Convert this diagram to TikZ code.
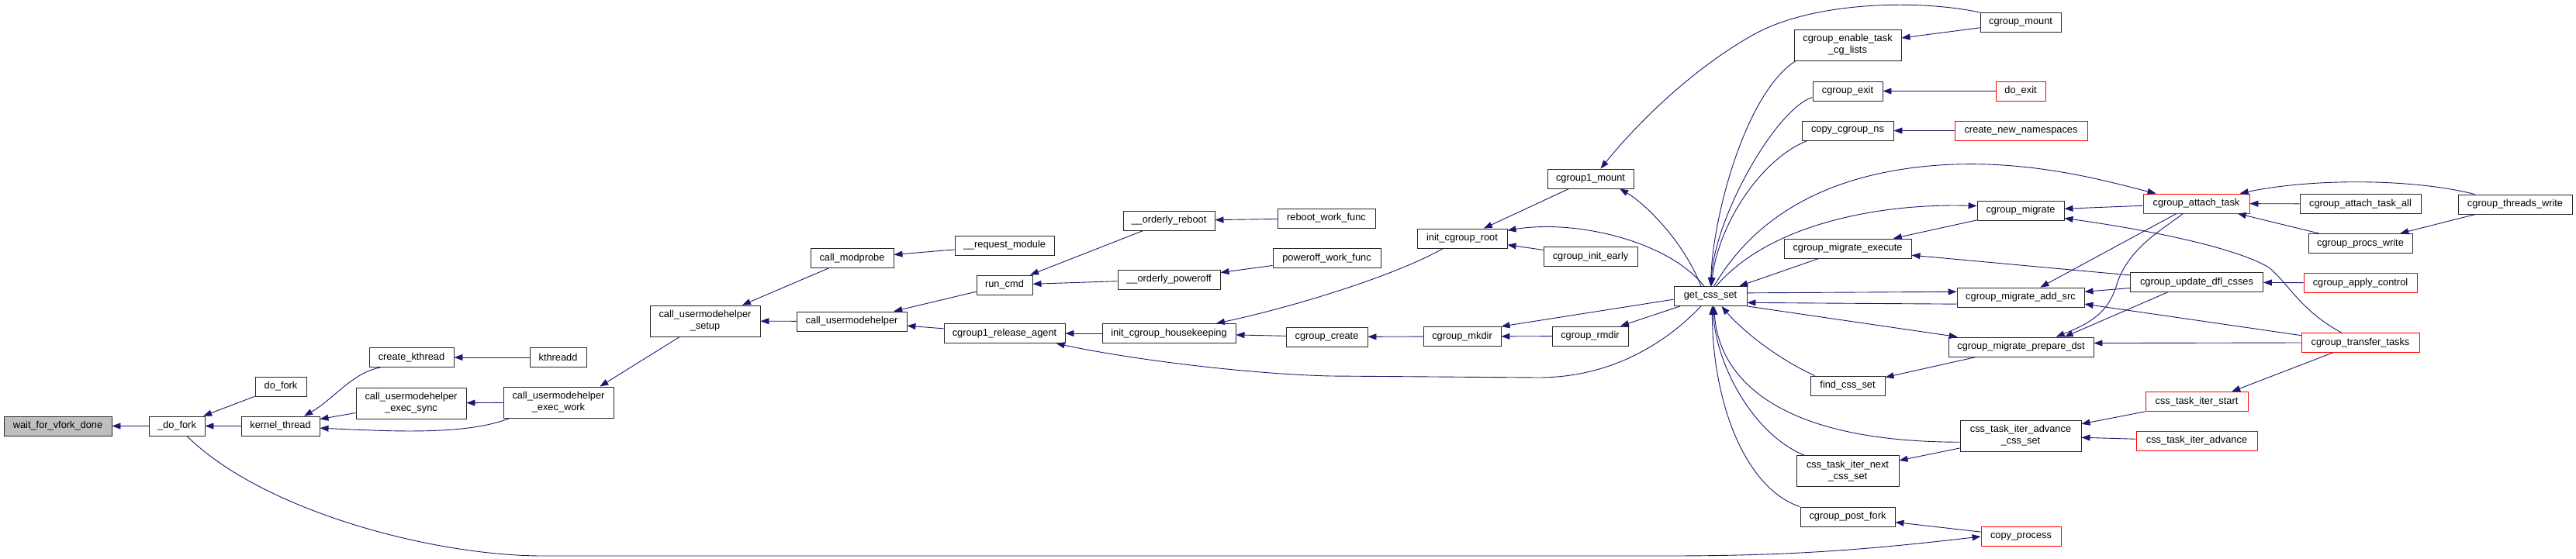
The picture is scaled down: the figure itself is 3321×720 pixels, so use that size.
\documentclass[tikz,border=0pt]{standalone}
\usepackage{fontspec}
\setmainfont{Liberation Sans}
\usetikzlibrary{arrows.meta}
\definecolor{edgeblue}{RGB}{25,25,112}
\definecolor{hlgray}{RGB}{191,191,191}
\definecolor{boxline}{RGB}{40,40,40}
\begin{document}
\begin{tikzpicture}[x=1pt, y=-1pt,
  font=\fontsize{12.8}{15}\selectfont,
  fn/.style={rectangle, draw=boxline, line width=0.9pt, fill=white, align=center,
             inner sep=0pt, minimum height=25pt},
  fn2/.style={fn, minimum height=40pt},
  hl/.style={fn, fill=hlgray}, rd/.style={fn, draw=red},
  ar/.style={{Triangle[length=11pt, width=8pt]}-, draw=edgeblue, line width=0.9pt}]
\useasboundingbox (0,0) rectangle (3321,720);
\node[hl, minimum width=139pt] (wfvd) at (74.5,549.5) {wait\_for\_vfork\_done};
\node[fn, minimum width=72pt] (dfork) at (228,549.5) {\_do\_fork};
\node[fn, minimum width=66pt] (dofork) at (362,498.5) {do\_fork};
\node[fn, minimum width=101pt] (kthr) at (361.5,549.5) {kernel\_thread};
\node[fn, minimum width=109pt] (ckthr) at (530.5,461) {create\_kthread};
\node[fn2, minimum width=142pt] (uhsync) at (530,520) {call\_usermodehelper\\\_exec\_sync};
\node[fn, minimum width=73pt] (kthd) at (719.5,461) {kthreadd};
\node[fn2, minimum width=142pt] (uhwork) at (720,519) {call\_usermodehelper\\\_exec\_work};
\node[fn2, minimum width=142pt] (uhsetup) at (909,414) {call\_usermodehelper\\\_setup};
\node[fn, minimum width=107pt] (modp) at (1098.5,333) {call\_modprobe};
\node[fn, minimum width=142pt] (uh) at (1098,414.5) {call\_usermodehelper};
\node[fn, minimum width=128pt] (reqmod) at (1295,316.5) {\_\_request\_module};
\node[fn, minimum width=72pt] (runcmd) at (1295,367.5) {run\_cmd};
\node[fn, minimum width=156pt] (relag) at (1295,430) {cgroup1\_release\_agent};
\node[fn, minimum width=118pt] (oreboot) at (1507,284.5) {\_\_orderly\_reboot};
\node[fn, minimum width=132pt] (opoff) at (1507,360.5) {\_\_orderly\_poweroff};
\node[fn, minimum width=172pt] (hkeep) at (1507,430) {init\_cgroup\_housekeeping};
\node[fn, minimum width=126pt] (rwf) at (1710,281.5) {reboot\_work\_func};
\node[fn, minimum width=139pt] (pwf) at (1710.5,333) {poweroff\_work\_func};
\node[fn, minimum width=105pt] (ccreate) at (1710.5,434.5) {cgroup\_create};
\node[fn, minimum width=116pt] (root) at (1885,307.5) {init\_cgroup\_root};
\node[fn, minimum width=100pt] (mkdir) at (1885,434) {cgroup\_mkdir};
\node[fn, minimum width=111pt] (mount1) at (2050.5,230.5) {cgroup1\_mount};
\node[fn, minimum width=121pt] (early) at (2050.5,331) {cgroup\_init\_early};
\node[fn, minimum width=98pt] (rmdir) at (2050,433.5) {cgroup\_rmdir};
\node[fn, minimum width=94pt] (getcss) at (2205,382) {get\_css\_set};
\node[fn, minimum width=104pt] (mount) at (2605,29) {cgroup\_mount};
\node[fn2, minimum width=138pt] (enable) at (2382,58) {cgroup\_enable\_task\\\_cg\_lists};
\node[fn, minimum width=90pt] (exit) at (2382,117.5) {cgroup\_exit};
\node[rd, minimum width=64pt] (doexit) at (2605,117.5) {do\_exit};
\node[fn, minimum width=118pt] (cpns) at (2382,168.5) {copy\_cgroup\_ns};
\node[rd, minimum width=171pt] (cnns) at (2605.5,168.5) {create\_new\_namespaces};
\node[fn, minimum width=112pt] (migrate) at (2605,271.5) {cgroup\_migrate};
\node[fn, minimum width=164pt] (mexec) at (2382,320.5) {cgroup\_migrate\_execute};
\node[fn, minimum width=164pt] (addsrc) at (2605,383.5) {cgroup\_migrate\_add\_src};
\node[fn, minimum width=187pt] (pdst) at (2605.5,447.5) {cgroup\_migrate\_prepare\_dst};
\node[fn, minimum width=96pt] (findcss) at (2382,497.5) {find\_css\_set};
\node[fn2, minimum width=156pt] (iadvcss) at (2605,562) {css\_task\_iter\_advance\\\_css\_set};
\node[fn2, minimum width=132pt] (inextcss) at (2382,607.5) {css\_task\_iter\_next\\\_css\_set};
\node[fn, minimum width=122pt] (pfork) at (2382,666.5) {cgroup\_post\_fork};
\node[rd, minimum width=103pt] (cproc) at (2605.5,692) {copy\_process};
\node[rd, minimum width=137pt] (attach) at (2831.5,262.5) {cgroup\_attach\_task};
\node[fn, minimum width=171pt] (dfl) at (2832,364) {cgroup\_update\_dfl\_csses};
\node[rd, minimum width=132pt] (istart) at (2832,518) {css\_task\_iter\_start};
\node[rd, minimum width=156pt] (iadv) at (2832,568.5) {css\_task\_iter\_advance};
\node[fn, minimum width=156pt] (attall) at (3043,263) {cgroup\_attach\_task\_all};
\node[fn, minimum width=134pt] (procs) at (3043,314) {cgroup\_procs\_write};
\node[rd, minimum width=146pt] (applyc) at (3043,365) {cgroup\_apply\_control};
\node[rd, minimum width=152pt] (transf) at (3043,442) {cgroup\_transfer\_tasks};
\node[fn, minimum width=147pt] (threads) at (3242.5,263.5) {cgroup\_threads\_write};
\draw[ar] (wfvd) -- (dfork);
\draw[ar] (dfork) -- (dofork);
\draw[ar] (dfork) -- (kthr);
\draw[ar] (cproc.west) .. controls (2400,710) and (2300,717) .. (2150,717) -- (700,717) .. controls (560,717) and (340,660) .. (dfork.-45);
\draw[ar] (kthr.23) .. controls (430,515) and (455,480) .. (ckthr.-162);
\draw[ar] (kthr) -- (uhsync);
\draw[ar] (kthr.-3) .. controls (500,556) and (600,562) .. (uhwork.198);
\draw[ar] (ckthr) -- (kthd);
\draw[ar] (uhsync) -- (uhwork);
\draw[ar] (uhwork.21) -- (uhsetup.-148);
\draw[ar] (uhsetup) -- (modp);
\draw[ar] (uhsetup) -- (uh);
\draw[ar] (modp) -- (reqmod);
\draw[ar] (uh) -- (runcmd);
\draw[ar] (uh) -- (relag);
\draw[ar] (runcmd) -- (oreboot);
\draw[ar] (runcmd) -- (opoff);
\draw[ar] (relag) -- (hkeep);
\draw[ar] (relag.-11) .. controls (1450,462) and (1600,482) .. (1715,485) -- (1983,487) .. controls (2080,487) and (2150,440) .. (getcss.-133);
\draw[ar] (oreboot) -- (rwf);
\draw[ar] (opoff) -- (pwf);
\draw[ar] (hkeep.12) .. controls (1650,400) and (1790,360) .. (root.208);
\draw[ar] (hkeep) -- (ccreate);
\draw[ar] (ccreate) -- (mkdir);
\draw[ar] (mkdir) -- (rmdir);
\draw[ar] (mkdir.north east) -- (getcss.185);
\draw[ar] (rmdir) -- (getcss);
\draw[ar] (root) -- (mount1);
\draw[ar] (root) -- (early);
\draw[ar] (root.10) .. controls (2030,283) and (2150,310) .. (getcss.122);
\draw[ar] (mount1.-19) .. controls (2120,262) and (2170,310) .. (getcss.133);
\draw[ar] (mount1.45) .. controls (2110,160) and (2180,90) .. (2260,45) .. controls (2340,0) and (2480,0) .. (mount.north west);
\draw[ar] (enable) -- (mount);
\draw[ar] (getcss.88) .. controls (2208,280) and (2250,120) .. (enable.197);
\draw[ar] (getcss.86) .. controls (2210,280) and (2290,140) .. (exit.190);
\draw[ar] (getcss.84) .. controls (2215,290) and (2270,205) .. (cpns.194);
\draw[ar] (exit) -- (doexit);
\draw[ar] (cpns) -- (cnns);
\draw[ar] (attach.166) .. controls (2720,235) and (2620,205) .. (2500,213) .. controls (2330,225) and (2250,300) .. (getcss.70);
\draw[ar] (migrate.174) .. controls (2420,262) and (2280,290) .. (getcss.60);
\draw[ar] (getcss) -- (mexec);
\draw[ar] (mexec) -- (migrate);
\draw[ar] (addsrc.175) -- (getcss.5);
\draw[ar] (getcss.-10) -- (addsrc.186);
\draw[ar] (pdst.171) -- (getcss.south east);
\draw[ar] (getcss.-42) .. controls (2245,425) and (2290,462) .. (findcss.163);
\draw[ar] (findcss) -- (pdst);
\draw[ar] (getcss.-70) .. controls (2215,480) and (2280,570) .. (iadvcss.186);
\draw[ar] (getcss.-75) .. controls (2212,470) and (2260,560) .. (inextcss.160);
\draw[ar] (getcss.-80) .. controls (2208,520) and (2250,630) .. (pfork.north west);
\draw[ar] (inextcss) -- (iadvcss);
\draw[ar] (pfork) -- (cproc);
\draw[ar] (migrate) -- (attach);
\draw[ar] (migrate.-10) .. controls (2760,295) and (2880,318) .. (2925,345) .. controls (2950,365) and (2965,400) .. (transf.152);
\draw[ar] (mexec.-6) -- (dfl.174);
\draw[ar] (addsrc.27) -- (attach.207);
\draw[ar] (addsrc.5) -- (dfl.185);
\draw[ar] (addsrc.-6) -- (transf.173);
\draw[ar] (pdst.16) .. controls (2700,415) and (2718,400) .. (2728,370) .. controls (2742,320) and (2790,295) .. (attach.217);
\draw[ar] (pdst.13) -- (dfl.199);
\draw[ar] (pdst.3) -- (transf.west);
\draw[ar] (iadvcss) -- (istart);
\draw[ar] (iadvcss) -- (iadv);
\draw[ar] (istart.16) -- (transf.200);
\draw[ar] (attach) -- (attall);
\draw[ar] (attach) -- (procs);
\draw[ar] (attach.13) .. controls (2980,230) and (3110,230) .. (threads.166);
\draw[ar] (procs) -- (threads);
\draw[ar] (dfl) -- (applyc);
\end{tikzpicture}
\end{document}
